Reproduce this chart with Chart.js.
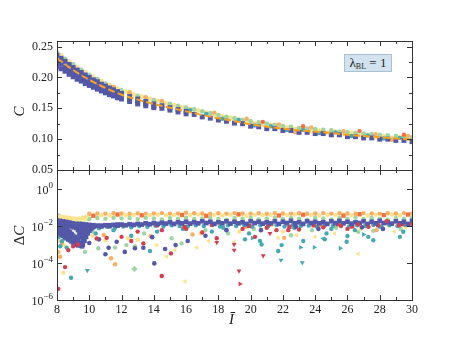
<!DOCTYPE html>
<html>
<head>
<meta charset="utf-8">
<script src="https://cdn.jsdelivr.net/npm/chart.js@4.4.0/dist/chart.umd.min.js"></script>
<style>
  body { margin: 0; background: #fff; width: 457px; height: 343px; position: relative; overflow: hidden; font-family: "Liberation Serif", serif; color: #222; }
  canvas { position: absolute; left: 0; top: 0; }
  .lab { position: absolute; white-space: nowrap; line-height: 1; }
  #yTop { left: 14px; top: 104px; font-size: 15px; font-style: italic; transform: rotate(-90deg); }
  #yBot { left: 10px; top: 228px; font-size: 15px; transform: rotate(-90deg); }
  #xBot { left: 229px; top: 312px; font-size: 15px; font-style: italic; }
  #key { left: 344px; top: 54px; width: 46px; height: 16px; background: #d2e2ee; border: 1px solid #a9c1d5; font-size: 13px; text-align: center; line-height: 16px; }
  #key sub { font-size: 8px; vertical-align: -2px; }
</style>
</head>
<body>
<canvas id="cTop" width="457" height="343"></canvas>
<canvas id="cBot" width="457" height="343"></canvas>
<div class="lab" id="yTop">C</div>
<div class="lab" id="yBot">Δ<i>C</i></div>
<div class="lab" id="xBot">Ī</div>
<div class="lab" id="key">λ<sub>BL</sub> = 1</div>
<script>
// axis ticks
const xTicks = [8, 10, 12, 14, 16, 18, 20, 22, 24, 26, 28, 30];
const xMinorTicks = [9, 11, 13, 15, 17, 19, 21, 23, 25, 27, 29];
const cTicks = [0.05, 0.10, 0.15, 0.20, 0.25];
const cMinorTicks = [0.075, 0.125, 0.175, 0.225];
const dcExponents = [0, -2, -4, -6];

// top panel: fitted curve C(I)
const fitX = [8, 9, 10, 11, 12, 13, 14, 15, 16, 17, 18, 19, 20, 21, 22, 23, 24, 25, 26, 27, 28, 29, 30];
const fitC = [0.231, 0.212, 0.196, 0.183, 0.172, 0.164, 0.157, 0.151, 0.145, 0.139, 0.134, 0.129, 0.124, 0.120, 0.117, 0.114, 0.112, 0.110, 0.107, 0.105, 0.103, 0.101, 0.0995];

// top panel: C samples [I, C]
const topBlueHigh = [[8,.236],[8.25,.231],[8.5,.226],[8.75,.221],[9,.216],[9.25,.212],[9.5,.208],[9.75,.204],[10,.200],[10.25,.196],[10.5,.193],[10.75,.189],[11,.186],[11.25,.183],[11.5,.180],[11.75,.177],[12,.174],[12.5,.169],[13,.165],[13.5,.161],[14,.157],[14.5,.154],[15,.151],[15.5,.148],[16,.145]];
const topBlueMid = [[8,.226],[8.25,.222],[8.5,.217],[8.75,.212],[9,.208],[9.25,.204],[9.5,.200],[9.75,.196],[10,.192],[10.25,.189],[10.5,.185],[10.75,.182],[11,.179],[11.25,.176],[11.5,.173],[11.75,.171],[12,.168],[12.5,.164],[13,.160],[13.5,.157],[14,.153],[14.5,.150],[15,.147],[15.5,.144],[16,.141],[16.5,.140],[17,.136],[17.5,.134],[18,.131],[18.5,.129],[19,.126],[19.5,.125],[20,.121],[20.5,.120],[21,.117],[21.5,.117],[22,.114],[22.5,.114],[23,.111],[23.5,.111],[24,.109],[24.5,.109],[25,.107],[25.5,.107],[26,.104],[26.5,.104],[27,.102],[27.5,.102],[28,.100],[28.5,.100],[29,.098],[29.5,.098],[30,.096]];
const topBlueLow = [[8,.218],[8.25,.214],[8.5,.210],[8.75,.205],[9,.201],[9.25,.197],[9.5,.194],[9.75,.190],[10,.187],[10.25,.184],[10.5,.181],[10.75,.178],[11,.175],[11.25,.172],[11.5,.170],[11.75,.167],[12,.165],[12.5,.161],[13,.157],[13.5,.154],[14,.151]];
const topGreen = [[8,.240],[8.5,.230],[9,.221],[9.5,.212],[10,.204],[10.5,.197],[11,.190],[11.5,.184],[12,.179],[12.5,.174],[13,.170],[13.5,.167],[14,.163],[14.5,.160],[15,.157],[15.5,.154],[16,.151],[16.5,.148],[17,.145],[17.5,.142],[18,.139],[18.5,.136],[19,.134],[19.5,.131],[20,.129],[20.5,.127],[21,.125],[21.5,.123],[22,.121],[22.5,.120],[23,.118],[23.5,.117],[24,.116],[24.5,.115],[25,.114],[25.5,.112],[26,.111],[26.5,.110],[27,.109],[27.5,.108],[28,.107],[28.5,.106],[29,.105],[29.5,.104],[30,.103]];
const topYellow = [[8.25,.236],[8.75,.226],[9.25,.217],[9.75,.209],[10.25,.201],[10.75,.194],[11.25,.188],[11.75,.182],[12.25,.177],[12.75,.172],[13.25,.169],[13.75,.165],[14.25,.162],[14.75,.158],[15.25,.155],[15.75,.152],[16.25,.149],[16.75,.146],[17.25,.143],[17.75,.140],[18.25,.137],[18.75,.135],[19.25,.132],[19.75,.130],[20.25,.126],[20.75,.125],[21.25,.123],[21.75,.119],[22.25,.119],[22.75,.116],[23.25,.117],[23.75,.113],[24.25,.114],[24.75,.110],[25.25,.112],[25.75,.109],[26.25,.110],[26.75,.106],[27.25,.107],[27.75,.103],[28.25,.105],[28.75,.102],[29.25,.103],[29.75,.100]];
const topTeal = [[16.25,.147],[17.25,.141],[18.25,.133],[19.25,.131],[20.25,.122],[21.25,.121],[22.25,.115],[23.25,.115],[24.25,.110],[25.25,.111],[26.25,.105],[27.25,.106],[28.25,.101],[29.25,.102]];
const topOrange = [[11.5,.185],[12.5,.176],[13.5,.168],[14.5,.162],[17.75,.143],[19.75,.133],[21.75,.124],[22.75,.111],[23.75,.119],[25.75,.113],[27.75,.108],[28.75,.099],[29.75,.105]];
const topRed = [[20.75,.128],[23.25,.121],[26.75,.113],[29.5,.107]];

// bottom panel: deviation ΔC samples [I, ΔC]
const dcOrangeRow = [[10,.046],[10.5,.048],[11,.047],[11.5,.049],[12,.048],[12.5,.046],[13,.049],[13.5,.047],[14,.048],[14.5,.05],[15,.047],[15.5,.048],[16,.052],[16.5,.049],[17,.048],[17.5,.046],[18,.049],[18.5,.047],[19,.05],[19.5,.048],[20,.047],[20.5,.049],[21,.046],[21.5,.05],[22,.048],[22.5,.047],[23,.049],[23.5,.046],[24,.048],[24.5,.05],[25,.047],[25.5,.049],[26,.048],[26.5,.046],[27,.05],[27.5,.048],[28,.047],[28.5,.049],[29,.048],[29.5,.05],[30,.047]];
const dcOrange = [[8.08,4e-4],[8.19,2.2e-4],[11.35,1.8e-4],[11.6,8.5e-5],[8.3,1.2e-3],[9.1,2.5e-3],[10.9,3.3e-3],[13.8,2.8e-3],[22.08,2.3e-3],[27.8,6e-3],[16.4,3.5e-3],[19.7,9e-3],[24.3,1.1e-2],[26.2,9.5e-3],[28.5,1.3e-2],[21.3,1.2e-2]];
const dcRedOrangeRow = [[10.25,.036],[11.75,.042],[13.25,.038],[15.75,.040],[17.25,.035],[19.25,.043],[21.75,.037],[23.25,.041],[25.75,.036],[26.75,.044],[28.25,.039],[29.75,.042]];
const dcYellowRow = [[8,.036],[8.2,.033],[8.4,.031],[8.6,.029],[8.8,.027],[9,.026],[9.2,.025],[9.4,.026],[9.6,.028],[9.8,.031],[10.25,.036],[10.75,.038],[11.25,.037],[11.75,.04],[12.25,.038],[12.75,.04],[13.25,.037],[13.75,.039],[14.25,.041],[14.75,.038],[15.25,.04],[15.75,.037],[16.25,.04],[16.75,.042],[17.25,.038],[17.75,.04],[18.25,.037],[18.75,.041],[19.25,.039],[19.75,.036],[20.25,.04],[20.75,.038],[21.25,.041],[21.75,.037],[22.25,.039],[22.75,.042],[23.25,.038],[23.75,.04],[24.25,.037],[24.75,.041],[25.25,.039],[25.75,.042],[26.25,.038],[26.75,.04],[27.25,.037],[27.75,.041],[28.25,.039],[28.75,.042],[29.25,.038],[29.75,.04]];
const dcPaleRow = [[8,.028],[8.2,.026],[8.4,.024],[8.6,.022],[8.8,.021],[9,.02],[9.2,.019],[9.4,.02],[9.6,.022],[9.8,.024],[10,.026]];
const dcYellow = [[8.39,3e-5],[8.05,1.6e-3],[8.45,9e-4],[9.6,2e-3],[10.2,3e-3],[11.0,1.7e-3],[12.4,2.2e-3],[13.0,1.8e-3],[16.9,4e-3],[19.3,5e-3],[22.0,5e-3],[26.8,7e-3],[29.6,9e-3]];
const dcYellowLeft = [[15.93,1e-5],[26.67,3.2e-4],[18.98,1.4e-3],[16.66,6.8e-4],[21.71,2.3e-3],[22.85,3.2e-3],[23.98,2.6e-3],[25.2,4e-3],[17.4,1.55e-3],[15.31,5e-4],[14.8,2.2e-4],[14.18,9.3e-4],[28.9,5e-3]];
const dcGreenRow = [[10,.024],[10.5,.027],[11,.025],[11.5,.028],[12,.026],[12.5,.027],[13,.024],[13.5,.028],[14,.026],[14.5,.023],[15,.027],[15.5,.025],[16,.028],[16.5,.024],[17,.026],[17.5,.029],[18,.025],[18.5,.022],[19,.027],[19.5,.025],[20,.028],[20.5,.023],[21,.026],[21.5,.029],[22,.024],[22.5,.027],[23,.025],[23.5,.022],[24,.028],[24.5,.026],[25,.023],[25.5,.027],[26,.025],[26.5,.029],[27,.024],[27.5,.027],[28,.025],[28.5,.022],[29,.027],[29.5,.025],[30,.028]];
const dcGreen = [[8.15,3.5e-3],[8.4,2e-3],[9.73,4e-4],[10.56,6.3e-4],[11.6,6.8e-4],[12.3,9.3e-4],[12.83,8e-4],[15.72,1.15e-3],[15.1,2.2e-3],[22.5,3.2e-3],[26.67,4.9e-3],[9.3,3e-3],[10.2,5e-3],[13.4,4e-3],[17.2,6e-3],[18.6,4e-3],[20.2,7e-3],[23.8,6e-3],[25.3,8e-3],[27.6,5.5e-3],[29.3,7e-3]];
const dcGreenDiamond = [[12.8,4.8e-5]];
const dcTeal = [[8.1,2.5e-3],[8.3,1.5e-3],[8.2,8e-4],[8.87,1.6e-5],[8.6,6.8e-4],[13.76,4.5e-4],[19.65,1.9e-3],[20.58,1.55e-3],[20.68,1e-3],[21.71,4.5e-4],[21.92,9.3e-4],[23.26,1.55e-3],[24.6,1.9e-3],[25.95,1.4e-3],[26.0,2.9e-3],[27.29,2.6e-3],[27.6,1.7e-3],[24.7,4e-3],[29.25,2.6e-3],[29.46,4.9e-3],[26.46,6e-3],[10.4,4e-3],[11.5,6e-3],[12.6,3e-3],[14.2,5e-3],[15.8,7e-3],[17.6,5e-3],[18.3,8e-3],[19.9,4e-3],[22.7,8e-3],[25.0,7e-3],[28.0,9e-3]];
const dcTealRow = [[10.6,.0075],[11.1,.009],[11.6,.008],[12.1,.0095],[12.6,.0085],[13.1,.01],[13.6,.009],[14.1,.0105],[14.6,.0095],[15.1,.011],[15.6,.01],[16.1,.0095],[16.6,.011],[17.1,.01],[17.6,.0115],[18.1,.0095],[18.6,.011],[19.1,.01],[19.6,.0115],[20.1,.0095],[20.6,.011],[21.1,.01],[21.6,.0115],[22.1,.0095],[22.6,.011],[23.1,.01],[23.6,.0105],[24.1,.0095],[24.6,.011],[25.1,.01],[25.6,.0115],[26.1,.0095],[26.6,.011],[27.1,.01],[27.6,.0115],[28.1,.0095],[28.6,.011],[29.1,.01],[29.6,.0115]];
const dcTealRight = [[23.1,7e-4],[23.94,7e-4],[25.55,6.3e-4],[20.1,2.2e-3],[27.0,3.5e-3]];
const dcTealDown = [[9.88,4e-5],[21.88,1.45e-4],[23.2,1.05e-4]];
const dcTealLeft = [[24.5,2.1e-3]];
const dcRed = [[8.08,4e-6],[8.5,6e-5],[8.7,5e-4],[9.0,8e-4],[9.3,1e-3],[10.46,2.1e-3],[11.08,2.3e-3],[12.0,2.6e-3],[12.6,1.55e-3],[13.35,1.15e-3],[14.49,2e-5],[15.06,3.3e-4],[17.9,2.2e-3],[20.27,2.6e-3],[21.6,6e-3],[22.33,6e-3],[25.6,1e-2],[26.67,1.2e-2],[28.43,1.85e-2],[13,5e-3],[14.5,6e-3],[16,7e-3],[17,4.5e-3],[19.5,7e-3],[21,8e-3],[23,6.5e-3],[24.5,8.5e-3],[26,7e-3],[27.3,9e-3],[29.2,1.1e-2],[30,1.3e-2]];
const dcRedRow = [[14.2,.011],[15.9,.009],[17.6,.012],[19.9,.01],[21.1,.0125],[22.4,.009],[23.9,.011],[25.4,.0125],[26.3,.0095],[27.9,.011],[29.4,.0125]];
const dcRedDown = [[17.9,1.3e-3],[18.98,1e-3],[18.98,5e-4],[19.28,3.7e-5],[20.78,2.5e-4],[21.2,4e-3]];
const dcRedRight = [[19.34,7.4e-6]];
const dcBlue = [[11.0,3e-4],[11.2,6.7e-4],[11.7,1.4e-3],[12.2,4e-4],[12.83,6.3e-4],[13.35,6.7e-4],[14.03,9.5e-5],[14.7,5.7e-4],[15.35,9.3e-4],[16.1,1.55e-3],[20.64,6e-3],[10.0,1.2e-3],[10.6,1.9e-3],[13.9,2.5e-3],[17.2,3e-3],[18.5,6e-3],[22.8,9e-3],[24.2,7e-3],[26.9,8.5e-3],[28.2,7e-3]];
const dcBlueBand = [[8,.035],[8.1,.031],[8.2,.027],[8.3,.024],[8.4,.021],[8.5,.019],[8.6,.017],[8.7,.016],[8.8,.015],[8.9,.014],[9,.0135],[9.2,.013],[9.4,.013],[9.6,.0125],[9.8,.012],[10,.0115],[10.25,.011],[10.5,.0105],[10.75,.0105],[11,.011],[11.25,.011],[11.5,.0115],[11.75,.012],[12,.012],[12.5,.0125],[13,.013],[13.5,.014],[14,.0145],[14.5,.015],[15,.016],[15.5,.016],[16,.017],[16.5,.016],[17,.018],[17.5,.017],[18,.016],[18.5,.018],[19,.017],[19.5,.016],[20,.018],[20.5,.017],[21,.016],[21.5,.018],[22,.017],[22.5,.019],[23,.016],[23.5,.018],[24,.017],[24.5,.016],[25,.018],[25.5,.019],[26,.017],[26.5,.016],[27,.018],[27.5,.017],[28,.019],[28.5,.016],[29,.018],[29.5,.017],[30,.019]];
const dcBlueBand2 = [[10.25,.009],[10.75,.0095],[11.25,.0098],[11.75,.0105],[12.25,.011],[12.75,.0115],[13.25,.012],[13.75,.0125],[14.25,.013],[14.75,.0135],[15.25,.013],[15.75,.014],[16.25,.0135],[16.75,.014],[17.25,.0145],[17.75,.013],[18.25,.014],[18.75,.0135],[19.25,.014],[19.75,.013],[20.25,.0145],[20.75,.0135],[21.25,.014],[21.75,.013],[22.25,.0145],[22.75,.014],[23.25,.013],[23.75,.0145],[24.25,.014],[24.75,.013],[25.25,.0145],[25.75,.014],[26.25,.0135],[26.75,.0145],[27.25,.013],[27.75,.014],[28.25,.0145],[28.75,.0135],[29.25,.014],[29.75,.013]];
const dcBlueFan = [[8,.022],[8.05,.019],[8.1,.017],[8.15,.0145],[8.2,.013],[8.3,.011],[8.4,.0092],[8.5,.0078],[8.6,.0065],[8.7,.0054],[8.8,.0045],[8.9,.0037],[9,.003],[9.1,.0025],[9.2,.002],[9.3,.0016],[9.4,.0012],[9.5,.0009],[9.55,.0008],[9.6,.001],[9.7,.0016],[9.8,.0026],[9.9,.004],[10,.0055],[10.1,.007],[10.2,.0085],[10.3,.0098],
  [8,.009],[8.1,.008],[8.2,.007],[8.3,.006],[8.4,.0053],[8.5,.0046],[8.6,.004],[8.7,.0035],[8.8,.003],[8.9,.0026],[9,.0022],[9.1,.0019],[9.2,.0016],[9.3,.0013],[9.4,.0011],
  [8,.005],[8.1,.0045],[8.2,.004],[8.3,.0034],[8.4,.003],[8.5,.0025],[8.6,.0022],[8.7,.0019],[8.8,.0017],[8.9,.0015],[9,.0013],[9.1,.0012],[9.2,.001],[9.3,.0009],
  [8.2,.018],[8.4,.014],[8.6,.011],[8.8,.0095],[9,.0085],[9.2,.0078],[9.4,.0075],[9.6,.008],[9.8,.009],[10,.0095],
  [9.3,.006],[9.4,.0045],[9.4,.003],[9.5,.0065],[9.5,.0042],[9.5,.0025],[9.6,.0055],[9.6,.0035],[9.6,.0018],[9.7,.0075],[9.7,.0048],[9.7,.003],[9.8,.0065],[9.8,.0042],[9.9,.0085],[9.9,.006],[10,.0075],[10.1,.0095],[10.2,.0105]];

const BLUE = '#5458a8', TEAL = '#45a8b5', GREEN = '#9fd6a3', PALE = '#e8f4a6', YELLOW = '#fde28c',
      ORANGE = '#fbae61', REDORANGE = '#f46d43', RED = '#d53e4f', FITLINE = '#f7a21b';
const FONT = { family: '"Liberation Serif", serif', size: 12 };

function dots(pairs, color, style, r, rotation) {
  return {
    data: pairs.map(([x, y]) => ({ x, y })),
    backgroundColor: color, borderWidth: 0,
    pointStyle: style || 'circle', pointRadius: r || 2.2,
    pointRotation: rotation || 0, pointHoverRadius: r || 2.2
  };
}

/*
    Box with inward ticks on all four sides, like the matplotlib style
*/
const frame = {
  id: 'frame',
  afterDatasetsDraw(chart, args, o) {
    const { ctx, chartArea: a } = chart;
    const xs = chart.scales.x, ys = chart.scales.y;
    const px = v => Math.round(v) + 0.5;
    ctx.save();
    ctx.strokeStyle = '#333';
    ctx.lineWidth = 1;
    ctx.beginPath();
    const xt = (vals, len) => vals.forEach(v => {
      const p = px(xs.getPixelForValue(v));
      ctx.moveTo(p, a.bottom); ctx.lineTo(p, a.bottom - len);
      ctx.moveTo(p, a.top); ctx.lineTo(p, a.top + len);
    });
    const yt = (vals, len) => vals.forEach(v => {
      const p = px(ys.getPixelForValue(v));
      ctx.moveTo(a.left, p); ctx.lineTo(a.left + len, p);
      ctx.moveTo(a.right, p); ctx.lineTo(a.right - len, p);
    });
    xt(o.xMajor, 5); xt(o.xMinor, 3);
    yt(o.yMajor, 5); yt(o.yMinor, 3);
    ctx.stroke();
    ctx.strokeRect(px(a.left), px(a.top), Math.round(a.right - a.left), Math.round(a.bottom - a.top));

    // 10^n labels for the log axis
    if (o.expLabels) {
      ctx.fillStyle = '#222';
      ctx.textBaseline = 'alphabetic';
      o.expLabels.forEach(e => {
        const y = ys.getPixelForValue(Math.pow(10, e));
        const ex = e === 0 ? '0' : '\u2212' + Math.abs(e);
        ctx.font = '12px "Liberation Serif", serif';
        const w1 = ctx.measureText('10').width;
        ctx.font = '9px "Liberation Serif", serif';
        const w2 = ctx.measureText(ex).width;
        const x0 = a.left - 4 - w1 - w2;
        ctx.font = '12px "Liberation Serif", serif';
        ctx.fillText('10', x0, y + 5);
        ctx.font = '9px "Liberation Serif", serif';
        ctx.fillText(ex, x0 + w1, y - 1);
      });
    }
    ctx.restore();
  }
};

const baseOpts = {
  responsive: false, animation: false, devicePixelRatio: 1,
  events: []
};

new Chart(document.getElementById('cTop'), {
  type: 'scatter',
  data: {
    datasets: [
      { type: 'line', data: fitX.map((x, i) => ({ x, y: fitC[i] })), borderColor: FITLINE, borderWidth: 2,
        borderDash: [7, 3], pointRadius: 0, cubicInterpolationMode: 'monotone', fill: false },
      dots(topBlueMid, BLUE, 'rect', 3.5),
      dots(topBlueHigh, BLUE, 'rect', 3.5),
      dots(topBlueLow, BLUE, 'rect', 3.5),
      dots(topRed, REDORANGE),
      dots(topOrange, ORANGE),
      dots(topTeal, TEAL),
      dots(topGreen, GREEN, 'circle', 2.4),
      dots(topYellow, YELLOW, 'circle', 2.4)
    ]
  },
  options: {
    ...baseOpts,
    layout: { padding: { left: 0, right: 45, top: 41, bottom: 173 }, autoPadding: false },
    plugins: {
      legend: { display: false }, tooltip: { enabled: false },
      frame: { xMajor: xTicks, xMinor: xMinorTicks, yMajor: cTicks, yMinor: cMinorTicks }
    },
    scales: {
      x: { type: 'linear', min: 8, max: 30, display: false },
      y: {
        type: 'linear', min: 0.05, max: 0.259,
        afterFit: s => { s.width = 57; },
        afterBuildTicks: s => { s.ticks = cTicks.map(v => ({ value: v })); },
        ticks: { callback: v => v.toFixed(2), font: FONT, color: '#222', padding: 4 },
        grid: { display: false, drawTicks: false },
        border: { display: false }
      }
    }
  },
  plugins: [frame]
});

new Chart(document.getElementById('cBot'), {
  type: 'scatter',
  data: {
    datasets: [
      dots(dcOrangeRow, ORANGE),
      dots(dcRedOrangeRow, REDORANGE, 'rect', 3),
      dots(dcYellowRow, YELLOW),
      dots(dcRed, RED),
      dots(dcRedDown, RED, 'triangle', 2.8, 180),
      dots(dcRedRight, RED, 'triangle', 2.8, 90),
      dots(dcBlue, BLUE, 'circle', 2.3),
      dots(dcBlueBand, BLUE, 'rect', 3.3),
      dots(dcBlueBand2, BLUE, 'rect', 3.3),
      dots(dcBlueFan, BLUE, 'rect', 3.3),
      dots(dcRedRow, RED, 'rect', 3),
      dots(dcTeal, TEAL),
      dots(dcTealRow, TEAL),
      dots(dcTealRight, TEAL, 'triangle', 2.8, 90),
      dots(dcTealDown, TEAL, 'triangle', 2.8, 180),
      dots(dcTealLeft, TEAL, 'triangle', 2.8, 270),
      dots(dcOrange, ORANGE),
      dots(dcYellow, YELLOW),
      dots(dcYellowLeft, YELLOW, 'triangle', 2.8, 270),
      dots(dcGreen, GREEN),
      dots(dcGreenDiamond, GREEN, 'rectRot', 3.2),
      dots(dcGreenRow, GREEN),
      dots(dcPaleRow, PALE, 'circle', 2.6)
    ]
  },
  options: {
    ...baseOpts,
    layout: { padding: { left: 57, right: 45, top: 170, bottom: 0 }, autoPadding: false },
    plugins: {
      legend: { display: false }, tooltip: { enabled: false },
      frame: { xMajor: xTicks, xMinor: xMinorTicks, yMajor: dcExponents.map(e => Math.pow(10, e)), yMinor: [], expLabels: dcExponents }
    },
    scales: {
      x: {
        type: 'linear', min: 8, max: 30,
        afterFit: s => { s.height = 43; },
        afterBuildTicks: s => { s.ticks = xTicks.map(v => ({ value: v })); },
        ticks: { font: FONT, color: '#222', padding: 3, maxRotation: 0, autoSkip: false },
        grid: { display: false, drawTicks: false },
        border: { display: false }
      },
      y: { type: 'logarithmic', min: 1e-6, max: 10.7, display: false }
    }
  },
  plugins: [frame]
});
</script>
</body>
</html>
